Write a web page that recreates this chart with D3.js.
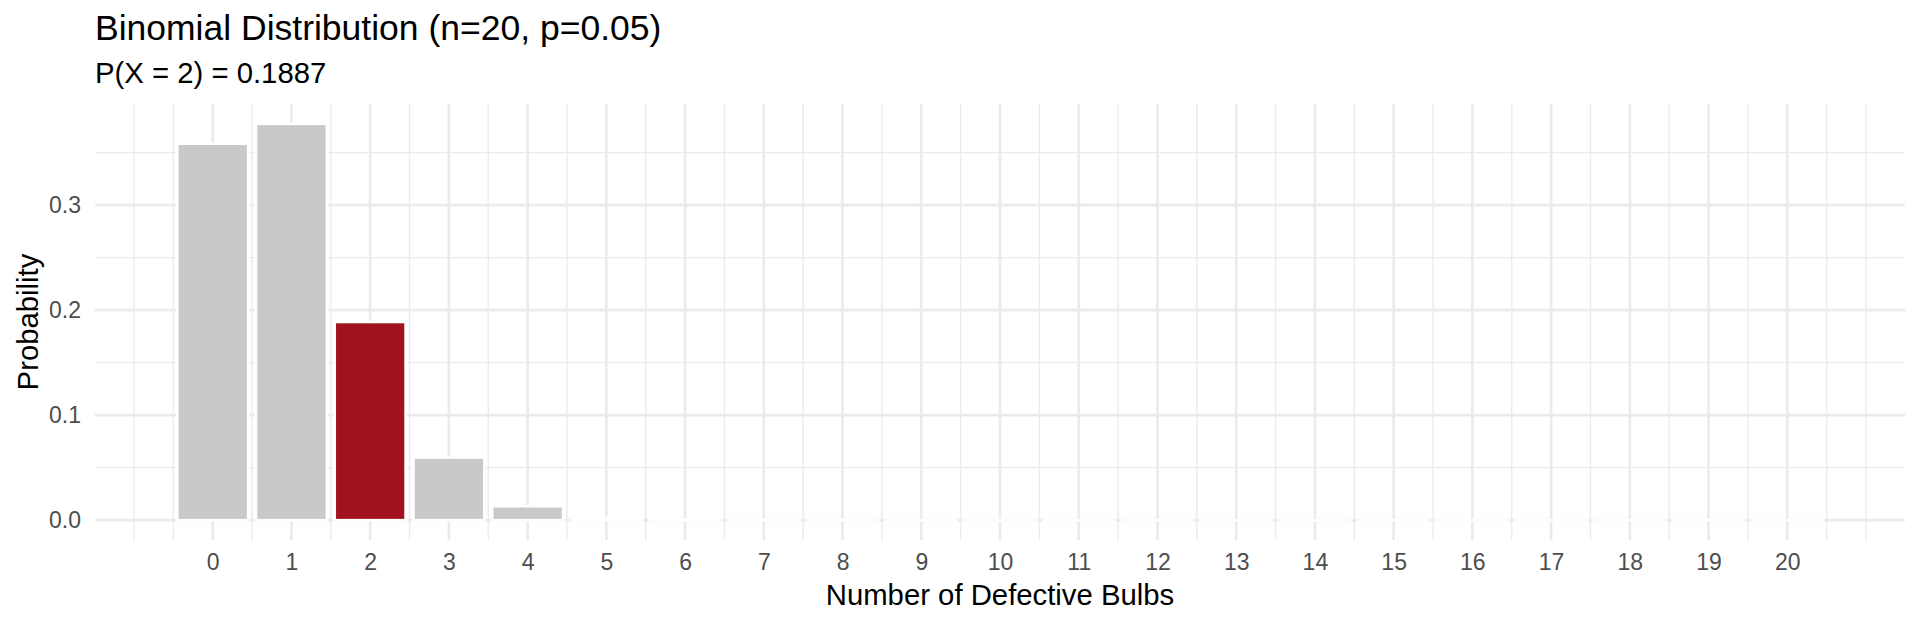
<!DOCTYPE html>
<html>
<head>
<meta charset="utf-8">
<script src="https://cdn.jsdelivr.net/npm/d3@7/dist/d3.min.js"></script>
<style>
  html, body { margin: 0; padding: 0; background: #ffffff; }
  svg { display: block; }
  text { font-family: "Liberation Sans", Arial, Helvetica, sans-serif; }
</style>
</head>
<body>
<svg id="chart" width="1920" height="624"></svg>
<script>
// ---- data ----
const defects = [0, 1, 2, 3, 4, 5, 6, 7, 8, 9, 10, 11, 12, 13, 14, 15, 16, 17, 18, 19, 20];
const probabilities = [0.3585, 0.3774, 0.1887, 0.0596, 0.0133, 0.00224, 0.000295, 0.0000310, 0.0000027,
  0.0000002, 1.08e-8, 5.2e-10, 2.0e-11, 6.6e-13, 1.7e-14, 3.7e-16, 6.0e-18, 7.5e-20, 6.5e-22, 3.6e-24, 9.5e-27];
const highlightValue = 2;
const xTickValues = [0, 1, 2, 3, 4, 5, 6, 7, 8, 9, 10, 11, 12, 13, 14, 15, 16, 17, 18, 19, 20];
const yTickValues = [0, 0.1, 0.2, 0.3];
const yTickLabels = ["0.0", "0.1", "0.2", "0.3"];
const titleText = "Binomial Distribution (n=20, p=0.05)";
const subtitleText = "P(X = 2) = 0.1887";
const xTitleText = "Number of Defective Bulbs";
const yTitleText = "Probability";

// ---- layout ----
const W = 1920, H = 624;
const panel = { left: 95, right: 1905, top: 104, bottom: 540 };
const barWidth = 0.9;

const data = defects.map((d, i) => ({ x: d, p: probabilities[i] }));

// ggplot-like 5% expansion
const xMin = d3.min(defects) - barWidth / 2, xMax = d3.max(defects) + barWidth / 2;
const xPad = (xMax - xMin) * 0.05;
const yMax = d3.max(probabilities);
const yPad = yMax * 0.05;

const x = d3.scaleLinear().domain([xMin - xPad, xMax + xPad]).range([panel.left, panel.right]);
const y = d3.scaleLinear().domain([0 - yPad, yMax + yPad]).range([panel.bottom, panel.top]);

const svg = d3.select("#chart");
svg.append("rect").attr("width", W).attr("height", H).attr("fill", "#ffffff");

// minor breaks (ggplot regular_minor_breaks logic)
const xMinor = [];
{
  const b = [xTickValues[0] - 1, ...xTickValues, xTickValues[xTickValues.length - 1] + 1];
  for (let i = 0; i < b.length - 1; i++) { xMinor.push(b[i]); xMinor.push((b[i] + b[i + 1]) / 2); }
  xMinor.push(b[b.length - 1]);
}
const xMinorLines = xMinor.filter(v => !xTickValues.includes(v) && v >= x.domain()[0] && v <= x.domain()[1]);
const yMinor = [];
{
  const b = [yTickValues[0] - 0.1, ...yTickValues, yTickValues[yTickValues.length - 1] + 0.1];
  for (let i = 0; i < b.length - 1; i++) yMinor.push((b[i] + b[i + 1]) / 2);
}
const yMinorLines = yMinor.filter(v => v >= y.domain()[0] && v <= y.domain()[1]);

const gridColor = "#EBEBEB";
const grid = svg.append("g");
grid.selectAll("line.ymin").data(yMinorLines).join("line")
  .attr("x1", panel.left).attr("x2", panel.right)
  .attr("y1", d => y(d)).attr("y2", d => y(d))
  .attr("stroke", gridColor).attr("stroke-width", 1.35);
grid.selectAll("line.xmin").data(xMinorLines).join("line")
  .attr("y1", panel.top).attr("y2", panel.bottom)
  .attr("x1", d => x(d)).attr("x2", d => x(d))
  .attr("stroke", gridColor).attr("stroke-width", 1.35);
grid.selectAll("line.ymaj").data(yTickValues).join("line")
  .attr("x1", panel.left).attr("x2", panel.right)
  .attr("y1", d => y(d)).attr("y2", d => y(d))
  .attr("stroke", gridColor).attr("stroke-width", 2.7);
grid.selectAll("line.xmaj").data(xTickValues).join("line")
  .attr("y1", panel.top).attr("y2", panel.bottom)
  .attr("x1", d => x(d)).attr("x2", d => x(d))
  .attr("stroke", gridColor).attr("stroke-width", 2.7);

// bars (white outline, as in the reference; tiny bars still show their outline)
svg.append("g").selectAll("rect").data(data).join("rect")
  .attr("x", d => x(d.x - barWidth / 2))
  .attr("width", d => x(d.x + barWidth / 2) - x(d.x - barWidth / 2))
  .attr("y", d => Math.min(y(d.p), y(0) - 0.01))
  .attr("height", d => Math.max(y(0) - y(d.p), 0.01))
  .attr("fill", d => d.x === highlightValue ? "#A0121D" : "#C9C9C9")
  .attr("stroke", "#ffffff")
  .attr("stroke-width", 2.6);

// axes
const xAxis = d3.axisBottom(x).tickValues(xTickValues).tickFormat(d3.format("d")).tickSize(0).tickPadding(14);
const gx = svg.append("g").attr("transform", `translate(0,${panel.bottom})`).call(xAxis);
gx.select(".domain").remove();
gx.selectAll("text").attr("font-size", 23).attr("fill", "#4D4D4D")
  .attr("font-family", "Liberation Sans, Arial, sans-serif");

const yAxis = d3.axisLeft(y).tickValues(yTickValues).tickFormat((d, i) => yTickLabels[i]).tickSize(0).tickPadding(14);
const gy = svg.append("g").attr("transform", `translate(${panel.left},0)`).call(yAxis);
gy.select(".domain").remove();
gy.selectAll("text").attr("font-size", 23).attr("fill", "#4D4D4D")
  .attr("font-family", "Liberation Sans, Arial, sans-serif");

// titles
svg.append("text").attr("x", panel.left).attr("y", 40)
  .attr("font-size", 35.5).attr("fill", "#000").text(titleText);
svg.append("text").attr("x", panel.left).attr("y", 83)
  .attr("font-size", 29.3).attr("fill", "#000").text(subtitleText);
svg.append("text").attr("x", (panel.left + panel.right) / 2).attr("y", 605)
  .attr("text-anchor", "middle").attr("font-size", 29.3).attr("fill", "#000").text(xTitleText);
svg.append("text")
  .attr("transform", `translate(37.5,${(panel.top + panel.bottom) / 2}) rotate(-90)`)
  .attr("text-anchor", "middle").attr("font-size", 29.3).attr("fill", "#000").text(yTitleText);
</script>
</body>
</html>
